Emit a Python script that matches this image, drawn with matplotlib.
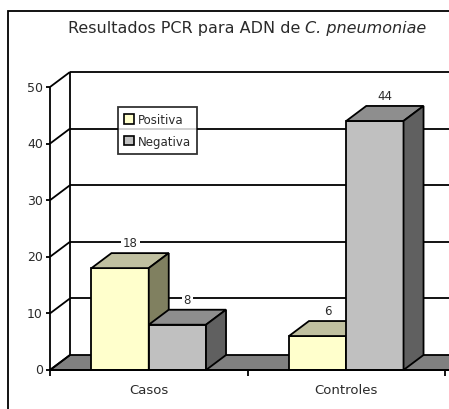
import matplotlib
matplotlib.use("Agg")
import matplotlib.pyplot as plt
from matplotlib.patches import Polygon, Rectangle, Patch

categories = ["Casos", "Controles"]
series = ["Positiva", "Negativa"]
positiva = [18, 6]
negativa = [8, 44]
yticks = [0, 10, 20, 30, 40, 50]

front_cols = ["#FFFFCC", "#C0C0C0"]
top_cols = ["#C0C0A0", "#8E8E8E"]
side_cols = ["#808060", "#606060"]

plt.rcParams["font.family"] = ["DejaVu Sans"]

fig = plt.figure(figsize=(4.49, 4.10), dpi=100)
W, H = 449.0, 410.0

# plot area: front axis at x=50px, floor front at y=371px, 50 at y=88px
ax = fig.add_axes([50 / W, (H - 371) / H, 395 / W, 283 / H])
ax.set_xlim(0, 2)
ax.set_ylim(0, 50)
ax.axis("off")

DX = 20 / 197.5   # depth offset in category units
DY = 15 / 5.66    # depth offset in value units
lw = 1.3
bw = 0.29


def poly(pts, fc, z=2):
    ax.add_patch(Polygon(pts, closed=True, facecolor=fc, edgecolor="black",
                         linewidth=lw, zorder=z, clip_on=False,
                         joinstyle="miter"))


def line(xs, ys, z=1):
    ax.plot(xs, ys, color="black", linewidth=lw, zorder=z, clip_on=False,
            solid_capstyle="butt")


# outer frame
fig.patches.append(Rectangle((8 / W, -0.1), 2, 1 - 12 / H + 0.1,
                             transform=fig.transFigure, fill=False,
                             edgecolor="black", linewidth=1.3))

# floor
poly([(0, 0), (2.3, 0), (2.3 + DX, DY), (DX, DY)], "#808080", z=1)

# back wall + left wall gridlines
for v in yticks:
    line([0, DX], [v, v + DY])
    if v > 0:
        line([DX, 2.3], [v + DY, v + DY])
line([DX, DX], [DY, 50 + DY])
line([0, 0], [0, 50], z=5)

# y ticks + labels
for v in yticks:
    line([-0.022, 0], [v, v], z=5)
    ax.annotate(str(v), (0, v), xytext=(-7, 0), textcoords="offset pixels",
                ha="right", va="center", fontsize=9, color="#2a2a2a",
                annotation_clip=False)

# x ticks + category labels
for i in range(3):
    line([i, i], [0, -1.1], z=5)
for i, c in enumerate(categories):
    ax.annotate(c, (i + 0.5, 0), xytext=(0, -20), textcoords="offset pixels",
                ha="center", va="center", fontsize=9.5, color="#2a2a2a",
                annotation_clip=False)

# 3D bars
for i in range(len(categories)):
    for j, vals in enumerate([positiva, negativa]):
        v = vals[i]
        x0 = i + 0.5 - bw + j * bw
        x1 = x0 + bw
        z = 3 + j
        poly([(x0, 0), (x1, 0), (x1, v), (x0, v)], front_cols[j], z)
        poly([(x0, v), (x1, v), (x1 + DX, v + DY), (x0 + DX, v + DY)], top_cols[j], z)
        poly([(x1, 0), (x1 + DX, DY), (x1 + DX, v + DY), (x1, v)], side_cols[j], z)
        ax.annotate(str(v), (x0 + bw / 2 + DX / 2, v + DY), xytext=(0, 4),
                    textcoords="offset pixels", ha="center", va="bottom",
                    fontsize=8.5, color="#2a2a2a", zorder=10,
                    annotation_clip=False,
                    bbox=dict(facecolor="white", edgecolor="none", pad=1.5))

line([0, 2.3], [0, 0], z=6)

# legend
handles = [Patch(facecolor=front_cols[k], edgecolor="black", linewidth=1.2)
           for k in range(2)]
leg = fig.legend(handles, series, loc="upper left",
                 bbox_to_anchor=(118 / W, 1 - 108 / H), fontsize=8.5,
                 frameon=True, fancybox=False, edgecolor="black",
                 handlelength=0.85, handleheight=0.85, handletextpad=0.3,
                 borderpad=0.5, labelspacing=0.75, borderaxespad=0)
leg.get_frame().set_linewidth(1.3)
for t in leg.get_texts():
    t.set_color("#2a2a2a")
leg.set_zorder(20)

# title: normal part + italic species name
fig.canvas.draw()
r = fig.canvas.get_renderer()
t1 = fig.text(0, 1 - 28 / H, "Resultados PCR para ADN de ", fontsize=11.5,
              color="#2a2a2a", va="center", ha="left")
t2 = fig.text(0, 1 - 28 / H, "C. pneumoniae", fontsize=11.5, style="italic",
              color="#2a2a2a", va="center", ha="left")
w1 = t1.get_window_extent(r).width
w2 = t2.get_window_extent(r).width
start = 247 - (w1 + w2) / 2
t1.set_x(start / W)
t2.set_x((start + w1) / W)

fig.savefig("out.png", dpi=100)
